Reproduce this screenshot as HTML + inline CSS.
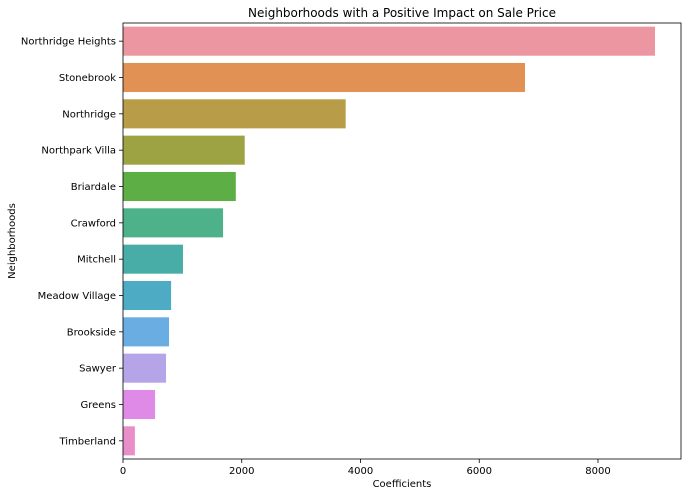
<!DOCTYPE html>
<html><head><meta charset="utf-8"><style>
body{margin:0;background:#fff;font-family:"DejaVu Sans",sans-serif;}
text{font-family:"DejaVu Sans",sans-serif;fill:#000;}
</style></head><body>
<svg id="chart" width="688" height="496">
<text x="402" y="17" font-size="12" text-anchor="middle">Neighborhoods with a Positive Impact on Sale Price</text>
<text x="402" y="487" font-size="10" text-anchor="middle">Coefficients</text>
<text x="15" y="241" font-size="10" text-anchor="middle" transform="rotate(-90 15 241)">Neighborhoods</text>
<g id="bars"></g><g id="axes"></g>
</svg>
<script>
const categories=["Northridge Heights","Stonebrook","Northridge","Northpark Villa","Briardale","Crawford","Mitchell","Meadow Village","Brookside","Sawyer","Greens","Timberland"];
const values=[8960,6770,3750,2050,1900,1685,1010,810,775,725,540,200];
const colors=["#eb96a0","#e19153","#b99c48","#9da342","#5eae46","#4db18a","#49ada7","#4dabc3","#6aade3","#b5a5e8","#e08ae8","#e88fca"];
const xTicks=[0,2000,4000,6000,8000];
const L=123,R=681,T=23,B=459;
const xs=v=>L+v*(598-L)/8000;
const band=(B-T)/categories.length;
const ys=i=>T+band*i;
const ns="http://www.w3.org/2000/svg";
const gb=document.getElementById('bars'),ga=document.getElementById('axes');
function mk(t,a,p){const e=document.createElementNS(ns,t);for(const k in a)e.setAttribute(k,a[k]);p.appendChild(e);return e;}
categories.forEach((c,i)=>{
 const r=mk('rect',{x:L,y:ys(i)+band*0.1,width:xs(values[i])-L,height:band*0.8,fill:colors[i]},gb);
 
 
 const cy=ys(i)+band/2;
 mk('line',{x1:L-4,x2:L,y1:cy,y2:cy,stroke:'#000','stroke-width':0.8},ga);
 const t=mk('text',{x:L-7,y:cy+3.5,'font-size':10,'text-anchor':'end'},ga);t.textContent=c;
 
 
});
xTicks.forEach(v=>{
 const x=xs(v);
 mk('line',{x1:x,x2:x,y1:B,y2:B+4,stroke:'#000','stroke-width':0.8},ga);
 const t=mk('text',{x:x,y:B+15,'font-size':10,'text-anchor':'middle'},ga);t.textContent=v;
 
 
});
const f=mk('rect',{x:L,y:T,width:R-L,height:B-T,fill:'none',stroke:'#000','stroke-width':0.8},ga);


</script>
</body></html>
